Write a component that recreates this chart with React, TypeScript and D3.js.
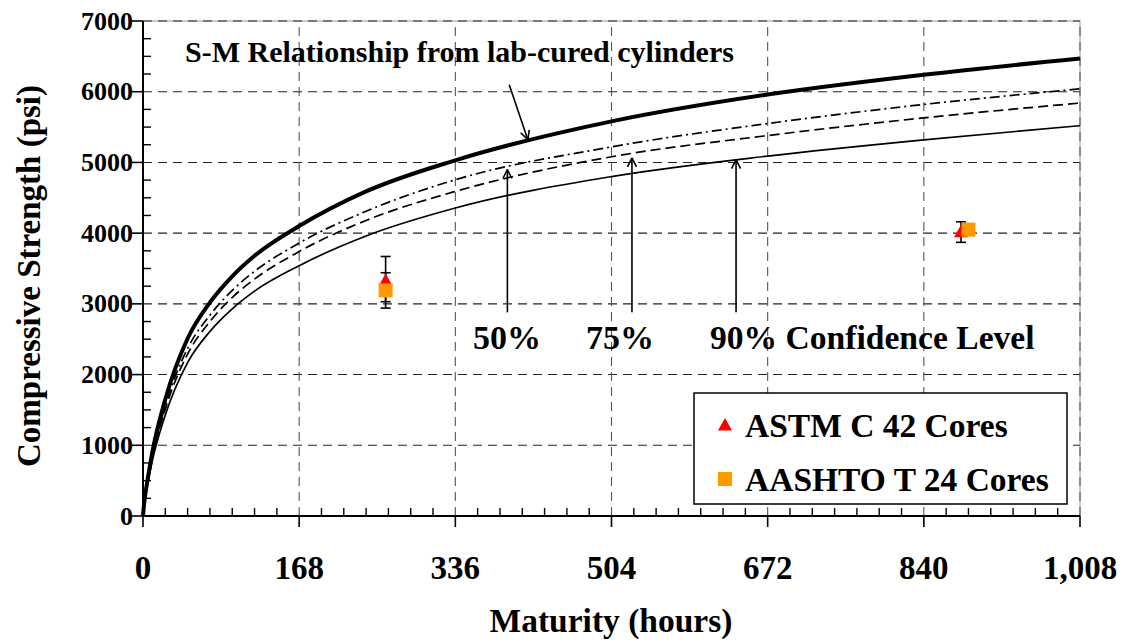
import React from "react";
import * as d3 from "d3";

// ---- data ----
const maturityHours = [0, 1, 2, 5, 10, 24, 48, 72, 96, 120, 168, 240, 336, 504, 672, 840, 1008];
const labCured = [0, 150, 260, 520, 900, 1650, 2510, 3020, 3390, 3680, 4100, 4590, 5030, 5580, 5960, 6240, 6470];
const conf50 = [0, 140, 245, 490, 850, 1560, 2370, 2840, 3190, 3460, 3860, 4310, 4755, 5220, 5550, 5820, 6040];
const conf75 = [0, 135, 235, 470, 820, 1510, 2290, 2750, 3090, 3350, 3740, 4180, 4590, 5080, 5380, 5630, 5840];
const conf90 = [0, 130, 225, 450, 780, 1430, 2170, 2610, 2930, 3180, 3540, 3960, 4355, 4800, 5090, 5320, 5520];

const astmM = [261, 880];
const astmS = [3330, 4020];
const astmLo = [3030, 3870];
const astmHi = [3670, 4160];

const aashtoM = [261, 888];
const aashtoS = [3190, 4050];
const aashtoLo = [2940, 3990];
const aashtoHi = [3440, 4110];

const xTicks = [0, 168, 336, 504, 672, 840, 1008];
const yTicks = [0, 1000, 2000, 3000, 4000, 5000, 6000, 7000];
const xMinorStep = 24;
const yMinorStep = 250;

const legendLabels = ["ASTM C 42 Cores", "AASHTO T 24 Cores"];
const confLabels = ["50%", "75%", "90% Confidence Level"];
// annotation arrows in data units
const confArrowM = [392, 526, 638];
const confArrowTip = [4900, 5063, 5039];
const confArrowBase = 2880;
const labArrow = { m0: 394, s0: 6100, m1: 414, s1: 5320 };

const FONT = "'Liberation Serif', 'Times New Roman', serif";

export default function App() {
  const W = 1128, H = 641;
  const x = d3.scaleLinear().domain([0, 1008]).range([143, 1080]);
  const y = d3.scaleLinear().domain([0, 7000]).range([516, 21]);

  const mk = (vals: number[]) =>
    d3.line<number>()
      .x((_, i) => x(maturityHours[i]))
      .y((d) => y(d))
      .curve(d3.curveMonotoneX)(vals) as string;

  const xMinor = d3.range(0, 1008 + 1, xMinorStep).filter((v) => v % 168 !== 0);
  const yMinor = d3.range(0, 7000 + 1, yMinorStep).filter((v) => v % 1000 !== 0);
  const fmtX = d3.format(",");

  const tri = (cx: number, cy: number, s: number) =>
    `M${cx},${cy - s * 0.5} L${cx + s * 0.5},${cy + s * 0.4} L${cx - s * 0.5},${cy + s * 0.4} Z`;

  const errBar = (m: number, lo: number, hi: number, key: string) => {
    const cx = x(m);
    return (
      <g key={key} stroke="#000" strokeWidth={1.6}>
        <line x1={cx} x2={cx} y1={y(lo)} y2={y(hi)} />
        <line x1={cx - 5} x2={cx + 5} y1={y(lo)} y2={y(lo)} />
        <line x1={cx - 5} x2={cx + 5} y1={y(hi)} y2={y(hi)} />
      </g>
    );
  };

  return (
    <svg width={W} height={H} style={{ position: "absolute", left: 0, top: 0, background: "#fff" }}
      fontFamily={FONT} fontWeight="bold">
      <defs>
        <marker id="arr" markerUnits="userSpaceOnUse" markerWidth="20" markerHeight="20"
          refX="10" refY="10" orient="auto">
          <path d="M10,10 L1,5.5 M10,10 L1,14.5" stroke="#000" strokeWidth="1.6" fill="none" />
        </marker>
      </defs>
      <rect x={0} y={0} width={W} height={H} fill="#fff" />

      {/* plot border */}
      <rect x={x(0)} y={y(7000)} width={x(1008) - x(0)} height={y(0) - y(7000)}
        fill="none" stroke="#9a9a9a" strokeWidth={1} />

      {/* gridlines */}
      {yTicks.filter((v) => v > 0).map((v) => (
        <line key={"gy" + v} x1={x(0)} x2={x(1008)} y1={y(v)} y2={y(v)}
          stroke="#222" strokeWidth={1.1} strokeDasharray="9,6" />
      ))}
      {xTicks.filter((v) => v > 0).map((v) => (
        <line key={"gx" + v} x1={x(v)} x2={x(v)} y1={y(0)} y2={y(7000)}
          stroke="#555" strokeWidth={1.1} strokeDasharray="9,6" />
      ))}

      {/* curves */}
      <path d={mk(conf90)} fill="none" stroke="#000" strokeWidth={1.7} />
      <path d={mk(conf75)} fill="none" stroke="#000" strokeWidth={1.7} strokeDasharray="10,5" />
      <path d={mk(conf50)} fill="none" stroke="#000" strokeWidth={1.7} strokeDasharray="10,4,2,4" />
      <path d={mk(labCured)} fill="none" stroke="#000" strokeWidth={4} />

      {/* axes */}
      <line x1={x(0)} x2={x(0)} y1={y(0) + 1} y2={y(7000)} stroke="#000" strokeWidth={2} />
      <line x1={x(0) - 1} x2={x(1008)} y1={y(0)} y2={y(0)} stroke="#000" strokeWidth={2} />
      {yTicks.map((v) => (
        <line key={"ty" + v} x1={x(0) - 11} x2={x(0)} y1={y(v)} y2={y(v)} stroke="#000" strokeWidth={1.6} />
      ))}
      {yMinor.map((v) => (
        <line key={"my" + v} x1={x(0)} x2={x(0) + 8} y1={y(v)} y2={y(v)} stroke="#000" strokeWidth={1.4} />
      ))}
      {xTicks.map((v) => (
        <line key={"tx" + v} x1={x(v)} x2={x(v)} y1={y(0)} y2={y(0) + 11} stroke="#000" strokeWidth={1.6} />
      ))}
      {xMinor.map((v) => (
        <line key={"mx" + v} x1={x(v)} x2={x(v)} y1={y(0)} y2={y(0) - 8} stroke="#000" strokeWidth={1.4} />
      ))}

      {/* tick labels */}
      {yTicks.map((v) => (
        <text key={"ly" + v} x={x(0) - 10} y={y(v)} textAnchor="end" dominantBaseline="central"
          fontSize={26}>{String(v)}</text>
      ))}
      {xTicks.map((v) => (
        <text key={"lx" + v} x={x(v)} y={579} textAnchor="middle" fontSize={33}>{fmtX(v)}</text>
      ))}

      {/* axis titles */}
      <text x={611} y={632} textAnchor="middle" fontSize={33.5}>Maturity (hours)</text>
      <text transform={`translate(40,276) rotate(-90)`} textAnchor="middle"
        fontSize={33}>Compressive Strength (psi)</text>

      {/* annotations */}
      <text x={185} y={62} fontSize={30}>S-M Relationship from lab-cured cylinders</text>
      <line x1={x(labArrow.m0)} y1={y(labArrow.s0)} x2={x(labArrow.m1)} y2={y(labArrow.s1)}
        stroke="#000" strokeWidth={1.6} markerEnd="url(#arr)" />
      {confArrowM.map((m, i) => (
        <line key={"ca" + i} x1={x(m)} x2={x(m)} y1={y(confArrowBase)} y2={y(confArrowTip[i])}
          stroke="#000" strokeWidth={1.6} markerEnd="url(#arr)" />
      ))}
      <text x={507} y={349} textAnchor="middle" fontSize={34}>{confLabels[0]}</text>
      <text x={620} y={349} textAnchor="middle" fontSize={34}>{confLabels[1]}</text>
      <text x={710} y={349} textAnchor="start" fontSize={33.6}>{confLabels[2]}</text>

      {/* data points */}
      {astmM.map((m, i) => errBar(m, astmLo[i], astmHi[i], "ea" + i))}
      {aashtoM.map((m, i) => errBar(m, aashtoLo[i], aashtoHi[i], "eb" + i))}
      {astmM.map((m, i) => (
        <path key={"pa" + i} d={tri(x(m), y(astmS[i]), 14)} fill="#ff0000" />
      ))}
      {aashtoM.map((m, i) => (
        <rect key={"pb" + i} x={x(m) - 7} y={y(aashtoS[i]) - 7} width={14} height={14} fill="#ff9900" />
      ))}

      {/* legend */}
      <rect x={694} y={393} width={373} height={111} fill="#fff" stroke="#000" strokeWidth={1.5} />
      <path d={tri(725, 425, 14)} fill="#ff0000" />
      <text x={745} y={425} dominantBaseline="central" fontSize={33.5}>{legendLabels[0]}</text>
      <rect x={718} y={472} width={14} height={14} fill="#ff9900" />
      <text x={745} y={479} dominantBaseline="central" fontSize={33.5}>{legendLabels[1]}</text>
    </svg>
  );
}
